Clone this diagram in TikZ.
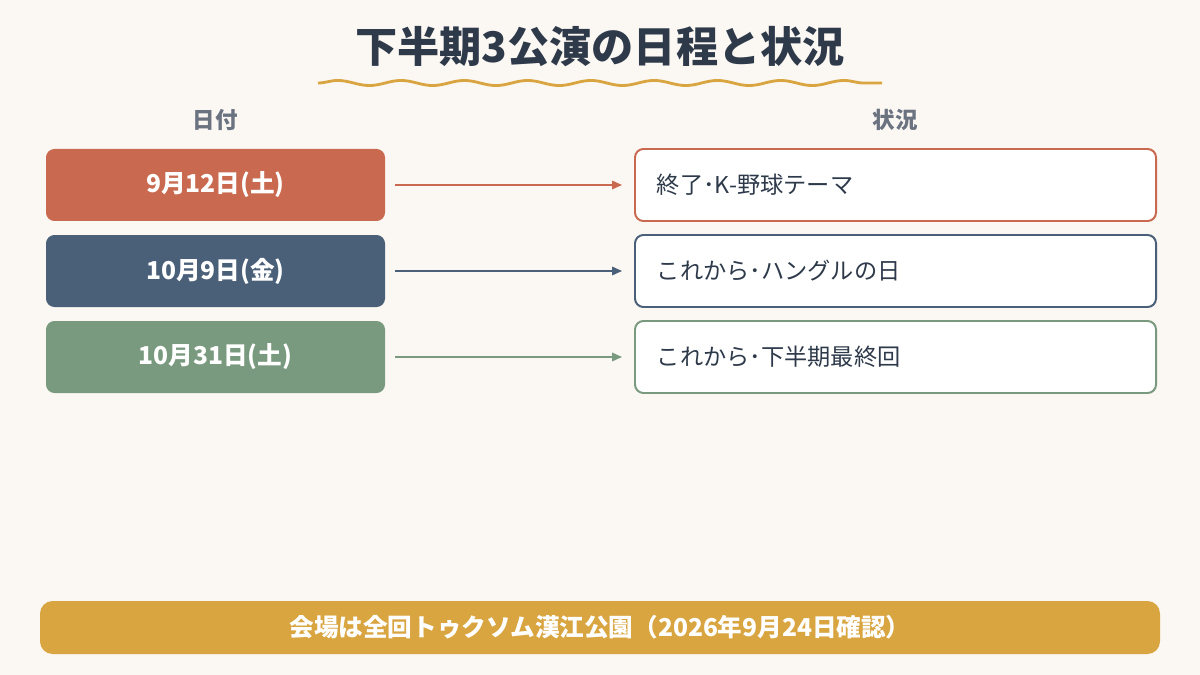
\documentclass[tikz,border=0pt]{standalone}
\usepackage{fontspec}
\setmainfont{Noto Sans CJK JP}
\usetikzlibrary{decorations.pathmorphing,arrows.meta}
\definecolor{bg}{HTML}{FBF7F2}
\definecolor{ttl}{HTML}{2E3A4A}
\definecolor{gr}{HTML}{6B7280}
\definecolor{cA}{HTML}{C96A50}
\definecolor{cB}{HTML}{4A5F78}
\definecolor{cC}{HTML}{7A9A80}
\definecolor{gold}{HTML}{D9A540}
\begin{document}
\begin{tikzpicture}[x=0.025cm,y=-0.025cm,
 lbox/.style={rounded corners=6pt,minimum width=339*0.025cm,minimum height=72*0.025cm,text=white,font=\fontsize{17.5}{20}\selectfont\bfseries,draw=none},
 rbox/.style={rounded corners=6pt,fill=white,line width=1.4pt,minimum width=521*0.025cm,minimum height=72*0.025cm},
 rtxt/.style={anchor=west,text=ttl,font=\fontsize{16.5}{18}\selectfont},
 arr/.style={line width=1.2pt,-{Triangle[length=7pt,width=6pt]}},
 hdr/.style={text=gr,font=\fontsize{16}{18}\selectfont\bfseries}]
\fill[bg] (0,0) rectangle (1200,675);
\useasboundingbox (0,0) rectangle (1200,675);
\node[text=ttl,font=\fontsize{30}{34}\selectfont\bfseries] (title) at (600,47) {下半期3公演の日程と状況};
\draw[gold,line width=2pt,decorate,decoration={snake,amplitude=1.8,segment length=45}] (318,83) -- (882,83);
\node[hdr] (h1) at (215,120) {日付};
\node[hdr] (h2) at (895,120) {状況};
\foreach \i/\c/\d/\t/\y in {1/cA/9月12日(土)/終了･K-野球テーマ/185, 2/cB/10月9日(金)/これから･ハングルの日/271, 3/cC/10月31日(土)/これから･下半期最終回/357}{
 \node[lbox,fill=\c] (L\i) at (215.5,\y) {\d};
 \node[rbox,draw=\c] (R\i) at (895.5,\y) {};
 \node[rtxt] (T\i) at (652,\y) {\t};
 \coordinate (s\i) at (395,\y);
 \coordinate (e\i) at (622,\y);
 \draw[arr,\c] (s\i) -- (e\i);
}
\node[rounded corners=9pt,fill=gold,minimum width=1120*0.025cm,minimum height=53*0.025cm,text=white,font=\fontsize{17.5}{20}\selectfont\bfseries] (foot) at (600,627.5) {会場は全回トゥクソム漢江公園（2026年9月24日確認）};
\end{tikzpicture}
\end{document}
